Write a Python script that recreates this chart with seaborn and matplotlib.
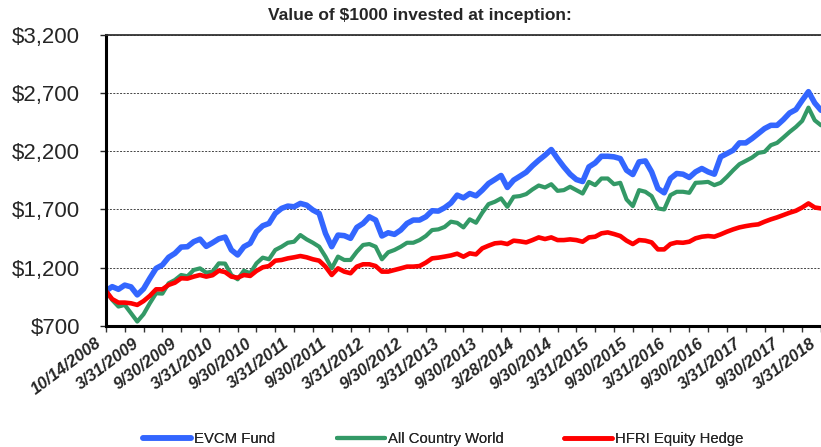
import numpy as np
import pandas as pd
import matplotlib
matplotlib.use("Agg")
import matplotlib.pyplot as plt
import matplotlib.ticker as mticker
import matplotlib.transforms as mtransforms
import seaborn as sns

# monthly values, index 0 = 10/14/2008, then month ends through 3/31/2018
evcm_fund = [
    1000, 1037, 1014, 1050, 1035, 966, 1018, 1109, 1194, 1223,
    1289, 1323, 1377, 1380, 1423, 1445, 1383, 1414, 1448, 1463,
    1352, 1309, 1380, 1409, 1509, 1560, 1580, 1666, 1709, 1729,
    1723, 1752, 1737, 1695, 1666, 1495, 1380, 1480, 1475, 1452,
    1546, 1580, 1637, 1609, 1472, 1500, 1486, 1523, 1580, 1609,
    1609, 1637, 1689, 1686, 1715, 1755, 1823, 1800, 1837, 1817,
    1866, 1923, 1957, 1992, 1889, 1952, 1986, 2020, 2075, 2123,
    2166, 2215, 2137, 2066, 2003, 1957, 1940, 2066, 2100, 2157,
    2157, 2152, 2137, 2037, 2000, 2109, 2117, 2023, 1880, 1843,
    1966, 2009, 2003, 1975, 2023, 2052, 2023, 2003, 2152, 2180,
    2209, 2272, 2272, 2309, 2352, 2395, 2423, 2423, 2472, 2529,
    2558, 2637, 2712, 2615, 2552,
]
all_country_world = [
    1000, 923, 866, 880, 809, 737, 800, 894, 980, 977,
    1066, 1094, 1137, 1126, 1180, 1194, 1157, 1166, 1237, 1235,
    1137, 1100, 1174, 1152, 1237, 1286, 1272, 1352, 1380, 1414,
    1423, 1480, 1443, 1414, 1380, 1295, 1194, 1295, 1266, 1266,
    1337, 1395, 1403, 1380, 1272, 1332, 1352, 1380, 1414, 1414,
    1437, 1472, 1523, 1529, 1550, 1595, 1585, 1546, 1615, 1586,
    1672, 1746, 1766, 1795, 1723, 1809, 1815, 1832, 1872, 1906,
    1889, 1917, 1860, 1866, 1895, 1866, 1837, 1937, 1909, 1966,
    1966, 1917, 1929, 1786, 1729, 1866, 1852, 1815, 1709, 1700,
    1823, 1852, 1852, 1843, 1929, 1932, 1937, 1909, 1929, 1980,
    2037, 2089, 2117, 2146, 2186, 2195, 2252, 2272, 2318, 2366,
    2409, 2461, 2575, 2466, 2423,
]
hfri_equity_hedge = [
    1000, 930, 900, 900, 894, 880, 913, 958, 1014, 1014,
    1052, 1071, 1109, 1106, 1123, 1137, 1123, 1135, 1174, 1162,
    1123, 1114, 1137, 1129, 1172, 1203, 1214, 1260, 1266, 1280,
    1289, 1300, 1289, 1272, 1260, 1209, 1137, 1194, 1166, 1152,
    1209, 1229, 1229, 1214, 1166, 1166, 1180, 1194, 1209, 1209,
    1214, 1243, 1280, 1286, 1295, 1305, 1320, 1294, 1323, 1314,
    1366, 1389, 1409, 1414, 1403, 1432, 1426, 1417, 1437, 1460,
    1446, 1460, 1437, 1437, 1443, 1437, 1423, 1460, 1466, 1495,
    1503, 1489, 1472, 1432, 1403, 1437, 1432, 1417, 1357, 1357,
    1403, 1417, 1414, 1423, 1452, 1466, 1472, 1466, 1486, 1509,
    1529, 1546, 1557, 1566, 1572, 1595, 1615, 1632, 1652, 1672,
    1689, 1717, 1752, 1717, 1709,
]

tick_labels = [
    "10/14/2008", "3/31/2009", "9/30/2009", "3/31/2010", "9/30/2010",
    "3/31/2011", "9/30/2011", "3/31/2012", "9/30/2012", "3/31/2013",
    "9/30/2013", "3/28/2014", "9/30/2014", "3/31/2015", "9/30/2015",
    "3/31/2016", "9/30/2016", "3/31/2017", "9/30/2017", "3/31/2018",
]
series_names = ["EVCM Fund", "All Country World", "HFRI Equity Hedge"]
colors = ["#3366FF", "#339966", "#FF0000"]
widths = [4.0, 3.0, 3.3]

sns.set_style("white")
plt.rcParams["font.family"] = ["Liberation Sans", "DejaVu Sans"]

months = np.arange(len(evcm_fund))
df = pd.DataFrame({
    "month": np.tile(months, 3),
    "value": evcm_fund + all_country_world + hfri_equity_hedge,
    "series": np.repeat(series_names, len(months)),
})

fig = plt.figure(figsize=(8.21, 4.47), dpi=100)
ax = fig.add_axes([0.129, 0.271, 0.871, 0.651])

for name, c, lw in zip(series_names, colors, widths):
    sns.lineplot(data=df[df["series"] == name], x="month", y="value",
                 color=c, linewidth=lw, ax=ax, label=name, legend=False)

ax.set_xlim(0, months[-1])
ax.set_ylim(700, 3200)
ax.set_yticks([700, 1200, 1700, 2200, 2700, 3200])
ax.yaxis.set_major_formatter(mticker.FuncFormatter(lambda v, p: f"\\${v:,.0f}"))
ax.grid(axis="y", color="#444444", linestyle=(0, (2, 1.5)), linewidth=0.7)
ax.set_axisbelow(True)

ax.set_xticks(np.arange(0, len(months), 6))
ax.set_xticklabels(tick_labels, rotation=37, ha="right", va="top",
                   rotation_mode="anchor", fontsize=12,
                   fontweight="bold", fontstyle="italic")
ax.set_xticks(np.arange(0, len(months), 3), minor=True)
ax.tick_params(axis="x", which="both", direction="out", length=4, width=1,
               color="#333333", pad=3, bottom=True)
ax.tick_params(axis="y", which="major", direction="out", length=4.5, width=1,
               labelsize=16, pad=14, left=True)
# nudge the date labels left so the last one stays inside the image
shift = mtransforms.ScaledTranslation(-11 / 100, 0, fig.dpi_scale_trans)
for lab in ax.get_xticklabels():
    lab.set_transform(lab.get_transform() + shift)
ax.set_xlabel("")
ax.set_ylabel("")

for side in ["left", "bottom"]:
    ax.spines[side].set_linewidth(2.2)
    ax.spines[side].set_color("black")
ax.spines["top"].set_linewidth(1.3)
ax.spines["top"].set_color("#333333")
ax.spines["right"].set_visible(False)

fig.text(0.512, 0.966, "Value of \\$1000 invested at inception:",
         ha="center", va="center", fontsize=12.5, fontweight="bold")

# legend entries sit at uneven spacing, so place them one by one
handles, labels = ax.get_legend_handles_labels()
legend_x = [143 / 821, 337 / 821, 564 / 821]
for h, l, lx in zip(handles, labels, legend_x):
    leg = fig.legend([h], [l], loc="center left", bbox_to_anchor=(lx, 0.018),
                     frameon=False, fontsize=10.7, handlelength=3.2,
                     handletextpad=0.2, borderpad=0, borderaxespad=0)
    fig.add_artist(leg)

fig.savefig("out.png", dpi=100)
